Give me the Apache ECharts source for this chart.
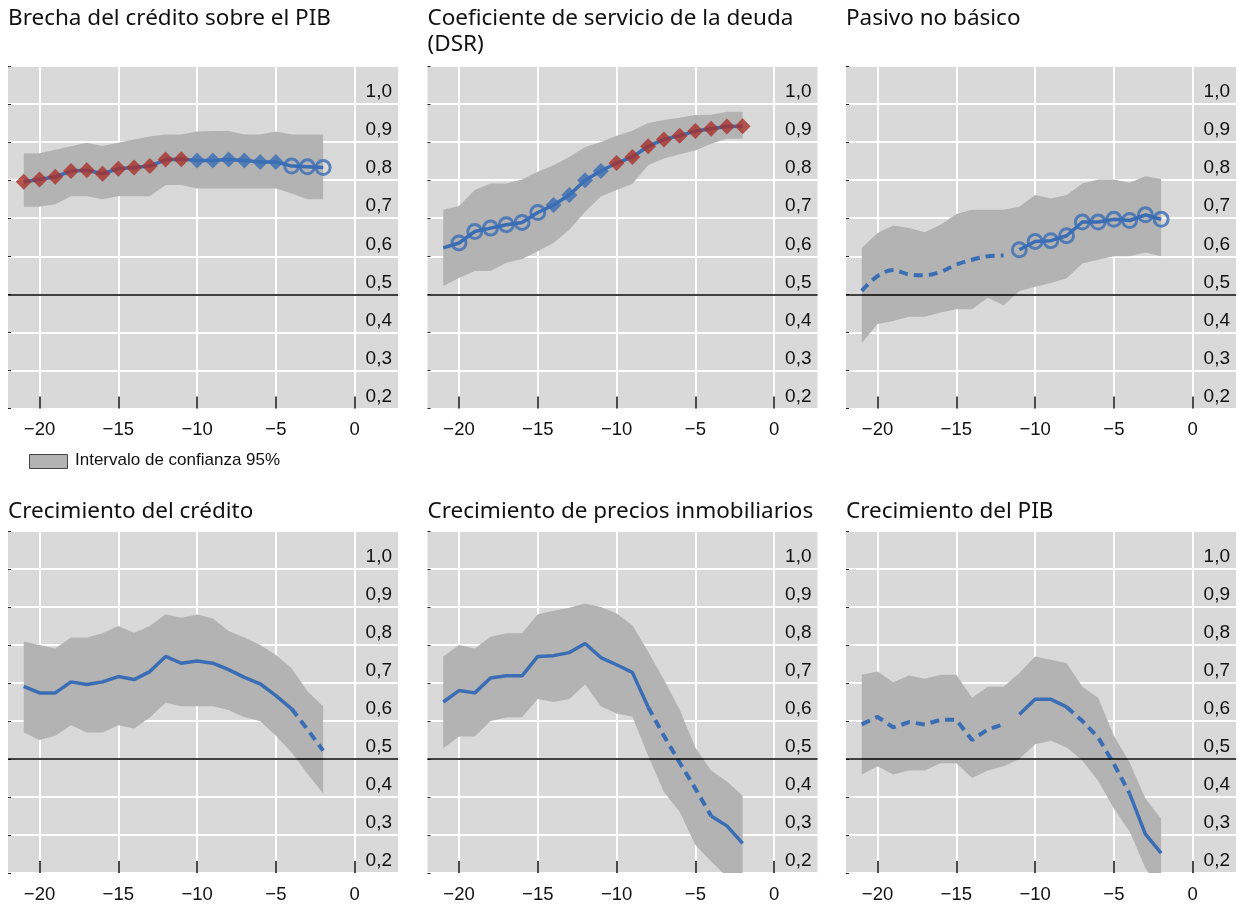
<!DOCTYPE html>
<html>
<head>
    <meta charset="utf-8">
    <title>Indicadores de alerta temprana</title>
    <script src="https://cdn.jsdelivr.net/npm/echarts@6/dist/echarts.min.js"></script>
    <style>
        body { margin: 0; background: #fff; }
    </style>
</head>
<body>
    <div id="main" style="width:1239px;height:904px;"></div>
    <script type="text/javascript">
        // trimestres antes de la crisis
        var xs = [-21, -20, -19, -18, -17, -16, -15, -14, -13, -12, -11, -10, -9, -8, -7, -6, -5, -4, -3, -2];
        var xTicks = [-20, -15, -10, -5, 0];

        var brechaLine = [0.796, 0.802, 0.809, 0.824, 0.826, 0.817, 0.830, 0.833, 0.837, 0.854, 0.855, 0.852, 0.852, 0.854, 0.852, 0.848, 0.848, 0.837, 0.835, 0.833];
        var brechaLow  = [0.730, 0.730, 0.737, 0.758, 0.758, 0.750, 0.758, 0.758, 0.758, 0.787, 0.787, 0.778, 0.778, 0.778, 0.778, 0.778, 0.778, 0.765, 0.750, 0.750];
        var brechaHigh = [0.870, 0.871, 0.880, 0.889, 0.898, 0.890, 0.898, 0.907, 0.915, 0.920, 0.920, 0.928, 0.929, 0.929, 0.920, 0.920, 0.928, 0.920, 0.920, 0.920];

        var dsrLine = [0.622, 0.635, 0.665, 0.674, 0.683, 0.689, 0.715, 0.735, 0.761, 0.800, 0.824, 0.845, 0.861, 0.889, 0.907, 0.917, 0.929, 0.935, 0.941, 0.942];
        var dsrLow  = [0.522, 0.543, 0.561, 0.561, 0.583, 0.593, 0.613, 0.635, 0.670, 0.717, 0.757, 0.774, 0.790, 0.839, 0.857, 0.868, 0.878, 0.896, 0.909, 0.909];
        var dsrHigh = [0.722, 0.732, 0.774, 0.791, 0.791, 0.802, 0.822, 0.839, 0.861, 0.887, 0.900, 0.917, 0.930, 0.950, 0.958, 0.964, 0.971, 0.972, 0.980, 0.980];

        var pasivoLine = [0.509, 0.548, 0.564, 0.552, 0.550, 0.559, 0.578, 0.591, 0.600, 0.602, 0.617, 0.639, 0.641, 0.654, 0.690, 0.690, 0.697, 0.694, 0.709, 0.697];
        var pasivoLow  = [0.372, 0.422, 0.430, 0.441, 0.441, 0.452, 0.461, 0.461, 0.491, 0.471, 0.509, 0.520, 0.530, 0.542, 0.581, 0.591, 0.600, 0.600, 0.610, 0.600];
        var pasivoHigh = [0.622, 0.661, 0.681, 0.674, 0.663, 0.683, 0.711, 0.722, 0.722, 0.722, 0.730, 0.761, 0.752, 0.761, 0.791, 0.802, 0.802, 0.793, 0.810, 0.803];

        var creditoLine = [0.691, 0.674, 0.674, 0.703, 0.696, 0.703, 0.717, 0.709, 0.730, 0.770, 0.752, 0.758, 0.752, 0.735, 0.715, 0.698, 0.667, 0.632, 0.578, 0.522];
        var creditoLow  = [0.570, 0.550, 0.561, 0.589, 0.570, 0.570, 0.589, 0.580, 0.609, 0.648, 0.639, 0.639, 0.639, 0.629, 0.610, 0.600, 0.561, 0.517, 0.461, 0.409];
        var creditoHigh = [0.809, 0.800, 0.791, 0.820, 0.820, 0.831, 0.850, 0.832, 0.850, 0.881, 0.872, 0.880, 0.870, 0.837, 0.820, 0.800, 0.774, 0.739, 0.678, 0.639];

        var preciosLine = [0.650, 0.680, 0.674, 0.713, 0.719, 0.719, 0.770, 0.772, 0.780, 0.804, 0.767, 0.748, 0.728, 0.637, 0.561, 0.491, 0.422, 0.350, 0.324, 0.278];
        var preciosLow  = [0.528, 0.559, 0.559, 0.600, 0.609, 0.610, 0.658, 0.650, 0.658, 0.696, 0.639, 0.620, 0.611, 0.509, 0.413, 0.361, 0.274, 0.230, 0.190, 0.170];
        var preciosHigh = [0.770, 0.800, 0.791, 0.822, 0.831, 0.831, 0.881, 0.890, 0.898, 0.909, 0.900, 0.883, 0.852, 0.783, 0.709, 0.630, 0.530, 0.470, 0.441, 0.403];

        var pibLine = [0.591, 0.611, 0.583, 0.597, 0.591, 0.603, 0.603, 0.550, 0.578, 0.591, 0.617, 0.657, 0.657, 0.637, 0.600, 0.557, 0.487, 0.409, 0.302, 0.252];
        var pibLow  = [0.459, 0.481, 0.459, 0.470, 0.470, 0.489, 0.489, 0.450, 0.470, 0.481, 0.500, 0.539, 0.548, 0.530, 0.496, 0.443, 0.370, 0.309, 0.213, 0.150];
        var pibHigh = [0.722, 0.730, 0.702, 0.720, 0.711, 0.722, 0.722, 0.661, 0.690, 0.690, 0.726, 0.770, 0.761, 0.752, 0.690, 0.661, 0.561, 0.491, 0.396, 0.343];

        var BLUE = '#3a6db4';
        var RED = '#a8312d';
        var BAND = '#b3b3b3';
        var BANDNAME = 'Intervalo de confianza 95%';

        var panels = [
            { title: 'Brecha del crédito sobre el PIB', line: brechaLine, low: brechaLow, high: brechaHigh,
              segs: [[-21, -2, false]],
              marks: [[-21, -11, 'red'], [-10, -5, 'blue'], [-4, -2, 'ring']] },
            { title: 'Coeficiente de servicio de la deuda\n(DSR)', line: dsrLine, low: dsrLow, high: dsrHigh,
              segs: [[-21, -2, false]],
              marks: [[-20, -15, 'ring'], [-14, -11, 'blue'], [-10, -2, 'red']] },
            { title: 'Pasivo no básico', line: pasivoLine, low: pasivoLow, high: pasivoHigh,
              segs: [[-21, -12, true, true], [-11, -2, false]],
              marks: [[-11, -2, 'ring']] },
            { title: 'Crecimiento del crédito', line: creditoLine, low: creditoLow, high: creditoHigh,
              segs: [[-21, -4, false], [-4, -2, true]], marks: [] },
            { title: 'Crecimiento de precios inmobiliarios', line: preciosLine, low: preciosLow, high: preciosHigh,
              segs: [[-21, -8, false], [-8, -4, true], [-4, -2, false]], marks: [] },
            { title: 'Crecimiento del PIB', line: pibLine, low: pibLow, high: pibHigh,
              segs: [[-21, -12, true], [-11, -8, false], [-8, -4, true], [-4, -2, false]], marks: [] }
        ];

        var colLeft = [8, 427.5, 846];
        var rowTop = [66, 531];
        var titleTop = [6, 499];

        function pick(vals, from, to) {
            return xs.map(function (x, i) { return [x, vals[i]]; })
                     .filter(function (p) { return p[0] >= from && p[0] <= to; });
        }

        function minus(v) { return v < 0 ? '\u2212' + (-v) : String(v); }

        // banda de confianza como un solo polígono, recortado al área del gráfico
        function bandRenderer(p) {
            return function (params, api) {
                if (params.dataIndex !== 0) return null;
                var top = p.high.map(function (v, k) { return api.coord([xs[k], v]); });
                var bot = p.low.map(function (v, k) { return api.coord([xs[k], v]); }).reverse();
                var cs = params.coordSys;
                return {
                    type: 'polygon',
                    shape: { points: top.concat(bot) },
                    style: { fill: BAND },
                    clipPath: { type: 'rect', shape: { x: cs.x, y: cs.y, width: cs.width, height: cs.height } }
                };
            };
        }

        var grids = [], xAxes = [], yAxes = [], titles = [], series = [];

        panels.forEach(function (p, i) {
            var col = i % 3, row = Math.floor(i / 3);
            grids.push({
                left: colLeft[col], top: rowTop[row], width: 390, height: 342.5,
                show: true, backgroundColor: '#d9d9d9', borderWidth: 0, containLabel: false
            });
            titles.push({
                text: p.title, left: colLeft[col], top: titleTop[row], padding: 0,
                textStyle: { fontFamily: 'Noto Sans', fontSize: 22.5, fontWeight: 'normal', color: '#111', lineHeight: 26 }
            });
            xAxes.push({
                gridIndex: i, type: 'value', min: -22, max: 2.75,
                axisLine: { show: false },
                axisTick: { show: true, customValues: xTicks, inside: true, length: 12,
                            lineStyle: { color: '#111', width: 1.5 } },
                axisLabel: { customValues: xTicks, margin: 12, fontSize: 18.5, color: '#111',
                             fontFamily: 'Liberation Sans', formatter: minus },
                splitLine: { show: true, lineStyle: { color: '#fff', width: 2 } }
            });
            yAxes.push({
                gridIndex: i, type: 'value', position: 'right', min: 0.2, max: 1.1, interval: 0.1,
                axisLine: { show: false }, axisTick: { show: false },
                axisLabel: {
                    inside: true, margin: 6, fontSize: 19, color: '#111', fontFamily: 'Liberation Sans',
                    verticalAlign: 'bottom', lineHeight: 24,
                    formatter: function (v) { return v > 1.05 ? '' : v.toFixed(1).replace('.', ','); }
                },
                splitLine: { show: true, lineStyle: { color: '#fff', width: 2 } }
            });
            yAxes.push({
                gridIndex: i, type: 'value', position: 'left', min: 0.2, max: 1.1, interval: 0.1,
                axisLine: { show: false },
                axisTick: { show: true, inside: true, length: 3, lineStyle: { color: '#222', width: 1 } },
                axisLabel: { show: false }, splitLine: { show: false }
            });

            var yi = i * 2;
            series.push({
                name: BANDNAME, type: 'custom', xAxisIndex: i, yAxisIndex: yi, silent: true,
                renderItem: bandRenderer(p),
                encode: { x: 0, y: [1, 2] },
                data: xs.map(function (x, k) { return [x, p.low[k], p.high[k]]; }),
                z: 1
            });

            p.segs.forEach(function (s, k) {
                var ser = {
                    type: 'line', xAxisIndex: i, yAxisIndex: yi, symbol: 'none', silent: true,
                    smooth: s[3] ? 0.35 : false,
                    lineStyle: { color: BLUE, width: s[2] ? 4 : 3.5, type: s[2] ? [9, 6] : 'solid' },
                    data: pick(p.line, s[0], s[1]), z: 3
                };
                if (k === 0) {
                    ser.markLine = {
                        silent: true, symbol: 'none', label: { show: false },
                        lineStyle: { color: '#000', width: 1.5, type: 'solid' },
                        data: [{ yAxis: 0.5 }]
                    };
                }
                series.push(ser);
            });

            p.marks.forEach(function (m) {
                var ring = m[2] === 'ring';
                series.push({
                    type: 'scatter', xAxisIndex: i, yAxisIndex: yi, silent: true,
                    symbol: ring ? 'circle' : 'diamond', symbolSize: ring ? 14 : 16,
                    itemStyle: ring ? { color: 'rgba(0,0,0,0)', borderColor: BLUE, borderWidth: 3 }
                                    : { color: m[2] === 'red' ? RED : BLUE },
                    data: pick(p.line, m[0], m[1]), z: 4
                });
            });
        });

        var myChart = echarts.init(document.getElementById('main'));
        myChart.setOption({
            animation: false,
            title: titles,
            grid: grids,
            xAxis: xAxes,
            yAxis: yAxes,
            series: series,
            graphic: [
                { type: 'rect', left: 29, top: 454, shape: { width: 38, height: 14 },
                  style: { fill: BAND, stroke: '#444', lineWidth: 1 } },
                { type: 'text', left: 75, top: 452,
                  style: { text: BANDNAME, fontSize: 17, fontFamily: 'Liberation Sans', fill: '#111' } }
            ]
        });
    </script>
</body>
</html>
